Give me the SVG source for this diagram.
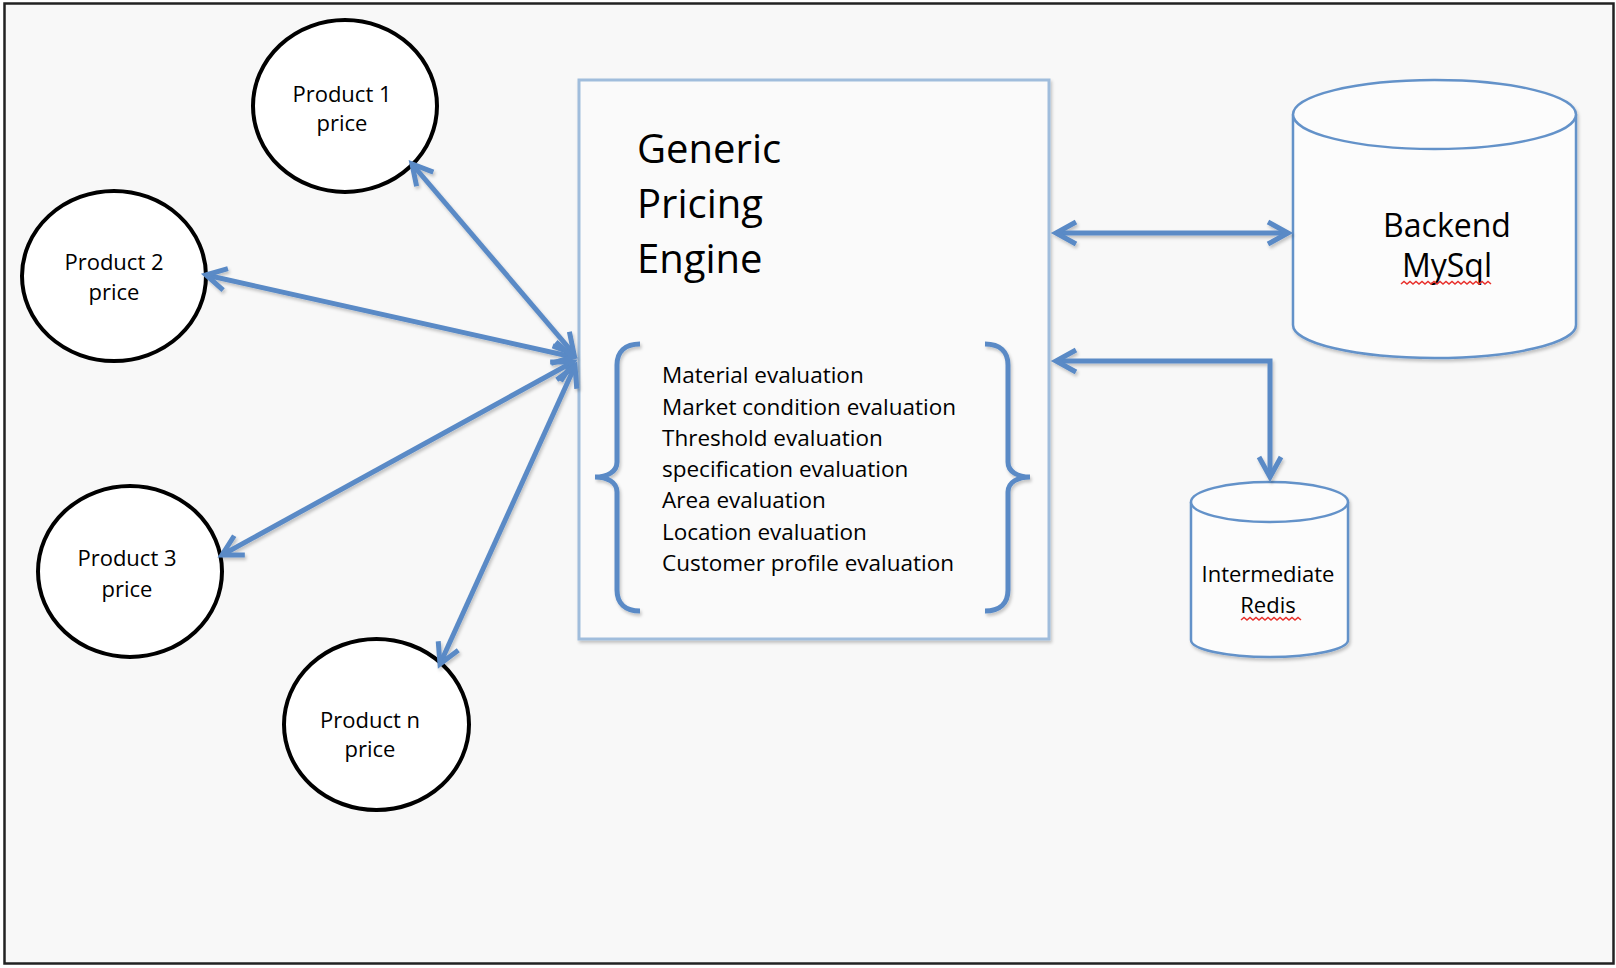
<svg xmlns="http://www.w3.org/2000/svg" width="1616" height="968" viewBox="0 0 1616 968">
<defs>
<style>
.t{font-family:"Open Sans","Liberation Sans",sans-serif;fill:#000}
.c{text-anchor:middle}
.circ{fill:#ffffff;stroke:#000;stroke-width:4}
.cyl{fill:#fcfcfc;stroke:#6492c9;stroke-width:2.5}
.conn{fill:none;stroke:#5a8ac6;stroke-width:5}
.brace{fill:none;stroke:#5a8ac6;stroke-width:5;stroke-linecap:butt}
.wavy{fill:none;stroke:#e8302c;stroke-width:1.5}
</style>
<marker id="ah" markerUnits="userSpaceOnUse" viewBox="-26 -16 36 32" markerWidth="36" markerHeight="32" refX="0" refY="0" orient="auto-start-reverse">
<path d="M-20,-11 L0,0 L-20,11" fill="none" stroke="#5a8ac6" stroke-width="5" stroke-linejoin="miter"/>
</marker>
<filter id="sh" x="-5%" y="-5%" width="115%" height="115%">
<feDropShadow dx="1.5" dy="2.5" stdDeviation="1.8" flood-color="#000" flood-opacity="0.22"/>
</filter>
</defs>

<rect x="0" y="0" width="1616" height="968" fill="#ffffff"/>
<rect x="4.5" y="3.5" width="1609" height="960" fill="#f8f8f8" stroke="#222" stroke-width="2.5"/>

<g id="engine">
<rect x="579" y="80" width="470" height="559" fill="#fafafa" stroke="#a0bddc" stroke-width="3" filter="url(#sh)"/>
<text class="t" font-size="40" x="637" y="163">Generic</text>
<text class="t" font-size="40" x="637" y="218">Pricing</text>
<text class="t" font-size="40" x="637" y="273">Engine</text>
<g filter="url(#sh)">
<path class="brace" d="M640,344 C625,344 617,352 617,365 L617,462 C617,472 607,477 595,477 C607,477 617,482 617,492 L617,590 C617,603 625,611 640,611"/>
<path class="brace" d="M985,344 C1000,344 1008,352 1008,365 L1008,462 C1008,472 1018,477 1030,477 C1018,477 1008,482 1008,492 L1008,590 C1008,603 1000,611 985,611"/>
</g>
<text class="t" font-size="22.5" x="662" y="383">Material evaluation</text>
<text class="t" font-size="22.5" x="662" y="414.5">Market condition evaluation</text>
<text class="t" font-size="22.5" x="662" y="445.5">Threshold evaluation</text>
<text class="t" font-size="22.5" x="662" y="477">specification evaluation</text>
<text class="t" font-size="22.5" x="662" y="508">Area evaluation</text>
<text class="t" font-size="22.5" x="662" y="539.5">Location evaluation</text>
<text class="t" font-size="22.5" x="662" y="571">Customer profile evaluation</text>
</g>

<g id="product1">
<ellipse class="circ" cx="345" cy="106" rx="92" ry="86"/>
<text class="t c" font-size="22" x="342" y="102">Product 1</text>
<text class="t c" font-size="22" x="342" y="131">price</text>
</g>
<g id="product2">
<ellipse class="circ" cx="114" cy="276" rx="92" ry="85"/>
<text class="t c" font-size="22" x="114" y="270">Product 2</text>
<text class="t c" font-size="22" x="114" y="300">price</text>
</g>
<g id="product3">
<ellipse class="circ" cx="130" cy="571.5" rx="92" ry="85.5"/>
<text class="t c" font-size="22" x="127" y="566">Product 3</text>
<text class="t c" font-size="22" x="127" y="597">price</text>
</g>
<g id="productn">
<ellipse class="circ" cx="376.5" cy="724.5" rx="92.5" ry="85.5"/>
<text class="t c" font-size="22" x="370" y="728">Product n</text>
<text class="t c" font-size="22" x="370" y="757">price</text>
</g>

<g id="mysql">
<g filter="url(#sh)">
<path class="cyl" d="M1293,114.5 L1293,325 A141.5,33 0 0 0 1576,325 L1576,114.5"/>
<ellipse class="cyl" cx="1434.5" cy="114.5" rx="141.5" ry="34.5"/>
</g>
<text class="t c" font-size="32" x="1447" y="237">Backend</text>
<text class="t c" font-size="32" x="1447" y="277">MySql</text>
<path class="wavy" d="M1401,284 l3,-2.5 l3,2.5 l3,-2.5 l3,2.5 l3,-2.5 l3,2.5 l3,-2.5 l3,2.5 l3,-2.5 l3,2.5 l3,-2.5 l3,2.5 l3,-2.5 l3,2.5 l3,-2.5 l3,2.5 l3,-2.5 l3,2.5 l3,-2.5 l3,2.5 l3,-2.5 l3,2.5 l3,-2.5 l3,2.5 l3,-2.5 l3,2.5 l3,-2.5 l3,2.5 l3,-2.5 l3,2.5"/>
</g>

<g id="redis">
<g filter="url(#sh)">
<path class="cyl" d="M1191,502 L1191,640 A78.5,17 0 0 0 1348,640 L1348,502"/>
<ellipse class="cyl" cx="1269.5" cy="502" rx="78.5" ry="20"/>
</g>
<text class="t c" font-size="22" x="1268" y="582">Intermediate</text>
<text class="t c" font-size="22" x="1268" y="613">Redis</text>
<path class="wavy" d="M1241,620 l3,-2.5 l3,2.5 l3,-2.5 l3,2.5 l3,-2.5 l3,2.5 l3,-2.5 l3,2.5 l3,-2.5 l3,2.5 l3,-2.5 l3,2.5 l3,-2.5 l3,2.5 l3,-2.5 l3,2.5 l3,-2.5 l3,2.5 l3,-2.5 l3,2.5"/>
</g>

<g id="connectors" filter="url(#sh)">
<path class="conn" d="M412,164 L574,354" marker-start="url(#ah)" marker-end="url(#ah)"/>
<path class="conn" d="M206,275 L573,357" marker-start="url(#ah)" marker-end="url(#ah)"/>
<path class="conn" d="M222,555 L573,362" marker-start="url(#ah)" marker-end="url(#ah)"/>
<path class="conn" d="M440,664 L575,366" marker-start="url(#ah)" marker-end="url(#ah)"/>
<path class="conn" d="M1056,233 L1288,233" marker-start="url(#ah)" marker-end="url(#ah)"/>
<path class="conn" d="M1056,361 L1270,361 L1270,477" marker-start="url(#ah)" marker-end="url(#ah)"/>
</g>
</svg>
